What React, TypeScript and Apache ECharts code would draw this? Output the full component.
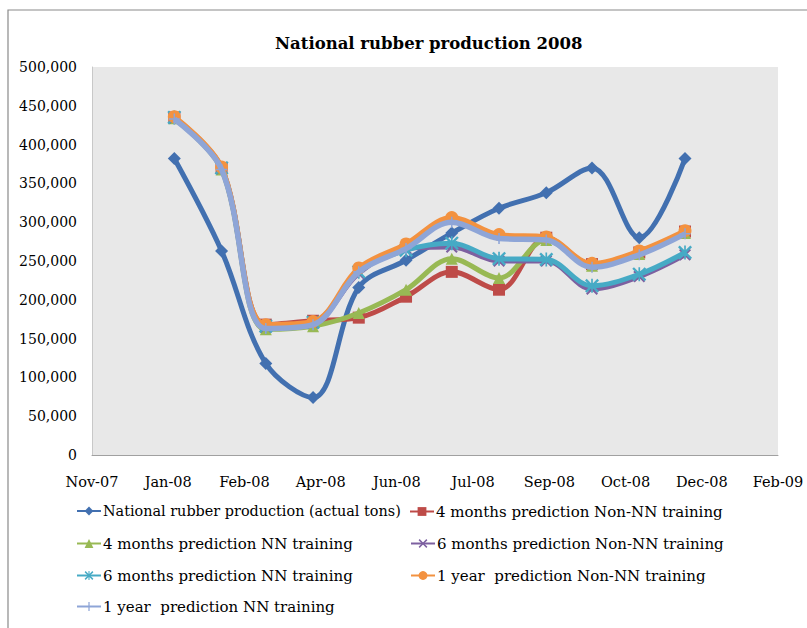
import React, { useEffect, useRef } from "react";
import * as echarts from "echarts";

// ---- data ----
const titleText = "National rubber production 2008";
const xTickLabels = ["Nov-07", "Jan-08", "Feb-08", "Apr-08", "Jun-08", "Jul-08", "Sep-08", "Oct-08", "Dec-08", "Feb-09"];
const axisStartDate = "2007-11-15";
const tickDays = 50;
const pointDates = [
  "2008-01-08", "2008-02-08", "2008-03-08", "2008-04-08", "2008-05-08", "2008-06-08",
  "2008-07-08", "2008-08-08", "2008-09-08", "2008-10-08", "2008-11-08", "2008-12-08",
];
const seriesNames = [
  "National rubber production (actual tons)",
  "4 months prediction Non-NN training",
  "4 months prediction NN training",
  "6 months prediction Non-NN training",
  "6 months prediction NN training",
  "1 year  prediction Non-NN training",
  "1 year  prediction NN training",
];
const actualTons = [382000, 263000, 118000, 74000, 216000, 251000, 286000, 318000, 338000, 370000, 280000, 382000];
const m4NonNN = [435000, 370000, 168000, 173000, 177000, 204000, 236000, 213000, 280000, 246000, 261000, 288000];
const m4NN = [434000, 368000, 162000, 166000, 183000, 213000, 253000, 228000, 277000, 244000, 259000, 286000];
const m6NonNN = [434000, 369000, 165000, 170000, 234000, 266000, 268000, 250000, 250000, 214000, 230000, 258000];
const m6NN = [435000, 370000, 166000, 171000, 236000, 264000, 273000, 253000, 252000, 218000, 233000, 261000];
const y1NonNN = [436000, 371000, 168000, 172000, 241000, 272000, 306000, 284000, 281000, 247000, 263000, 289000];
const y1NN = [433000, 368000, 163000, 168000, 236000, 266000, 300000, 279000, 277000, 242000, 258000, 285000];

const colors = ["#4270B0", "#BE4B48", "#98B954", "#7D60A0", "#46AAC5", "#F39240", "#8EA5D7"];

const X_PATH = "path://M0,1.2 L1.2,0 L5,3.8 L8.8,0 L10,1.2 L6.2,5 L10,8.8 L8.8,10 L5,6.2 L1.2,10 L0,8.8 L3.8,5 Z";
const STAR_PATH =
  "path://M0,1.2 L1.2,0 L5,3.8 L8.8,0 L10,1.2 L6.2,5 L10,8.8 L8.8,10 L5,6.2 L1.2,10 L0,8.8 L3.8,5 Z M4.4,0 L5.6,0 L5.6,10 L4.4,10 Z";
const PLUS_PATH = "path://M4.3,0 L5.7,0 L5.7,4.3 L10,4.3 L10,5.7 L5.7,5.7 L5.7,10 L4.3,10 L4.3,5.7 L0,5.7 L0,4.3 L4.3,4.3 Z";

const FONT = "DejaVu Serif";

export default function App() {
  const ref = useRef<HTMLDivElement>(null);
  useEffect(() => {
    if (!ref.current) return;
    const chart = echarts.init(ref.current, undefined, { renderer: "svg" });
    const start = Date.parse(axisStartDate + "T00:00:00Z");
    const toDay = (d: string) => (Date.parse(d + "T00:00:00Z") - start) / 86400000;
    const xs = pointDates.map(toDay);
    const all = [actualTons, m4NonNN, m4NN, m6NonNN, m6NN, y1NonNN, y1NN];
    const symbols = ["diamond", "rect", "triangle", X_PATH, STAR_PATH, "circle", PLUS_PATH];
    const sizes = [13, 12, 12, 12, 14, 13, 11];
    const widths = [5, 5, 5, 5, 5, 5, 5.5];

    const series = all.map((vals, i) => ({
      name: seriesNames[i],
      type: "line",
      smooth: 0.35,
      data: vals.map((v, j) => [xs[j], v]),
      symbol: symbols[i],
      symbolSize: sizes[i],
      showSymbol: true,
      lineStyle: { width: widths[i], color: colors[i] },
      itemStyle: { color: colors[i] },
      z: 2 + i,
      emphasis: { disabled: true },
    }));

    const legendPos = [
      { left: 76, top: 504, size: 14.4 },
      { left: 409, top: 504, size: 15 },
      { left: 76, top: 536, size: 15 },
      { left: 410, top: 536, size: 15 },
      { left: 76, top: 568, size: 15 },
      { left: 410, top: 568, size: 15 },
      { left: 76, top: 599, size: 15 },
    ];
    const legend = seriesNames.map((n, i) => ({
      data: [n],
      left: legendPos[i].left,
      top: legendPos[i].top,
      itemWidth: 24,
      itemHeight: 11,
      itemGap: 2,
      padding: 0,
      selectedMode: false,
      textStyle: { fontFamily: FONT, fontSize: legendPos[i].size, color: "#000", padding: [0, 0, 0, -3] },
    }));

    chart.setOption({
      animation: false,
      color: colors,
      title: {
        text: titleText,
        left: 270,
        top: 30,
        textStyle: { fontFamily: FONT, fontSize: 16.5, fontWeight: "bold", color: "#000" },
      },
      graphic: [
        {
          type: "rect",
          shape: { x: 8, y: 10, width: 900, height: 700 },
          style: { fill: "none", stroke: "#8a8a8a", lineWidth: 1.2 },
          silent: true,
        },
      ],
      legend,
      grid: {
        left: 92,
        top: 67,
        width: 686,
        height: 388,
        show: true,
        backgroundColor: "#E8E8E8",
        borderWidth: 0,
      },
      xAxis: {
        type: "value",
        min: 0,
        max: tickDays * (xTickLabels.length - 1),
        interval: tickDays,
        axisLine: { show: true, lineStyle: { color: "#A0A0A0", width: 1 } },
        axisTick: { show: false },
        splitLine: { show: false },
        axisLabel: {
          margin: 19,
          fontFamily: FONT,
          fontSize: 14.5,
          color: "#000",
          formatter: (v: number) => xTickLabels[Math.round(v / tickDays)] ?? "",
        },
      },
      yAxis: {
        type: "value",
        min: 0,
        max: 500000,
        interval: 50000,
        axisLine: { show: true, lineStyle: { color: "#C8C8C8", width: 1 } },
        axisTick: { show: false },
        splitLine: { show: false },
        axisLabel: {
          margin: 15,
          fontFamily: FONT,
          fontSize: 14,
          color: "#000",
          formatter: (v: number) => v.toString().replace(/\B(?=(\d{3})+(?!\d))/g, ","),
        },
      },
      series,
    });
    return () => chart.dispose();
  }, []);
  return (
    <div
      ref={ref}
      style={{ position: "fixed", left: 0, top: 0, width: 807, height: 628, background: "#fff" }}
    />
  );
}
